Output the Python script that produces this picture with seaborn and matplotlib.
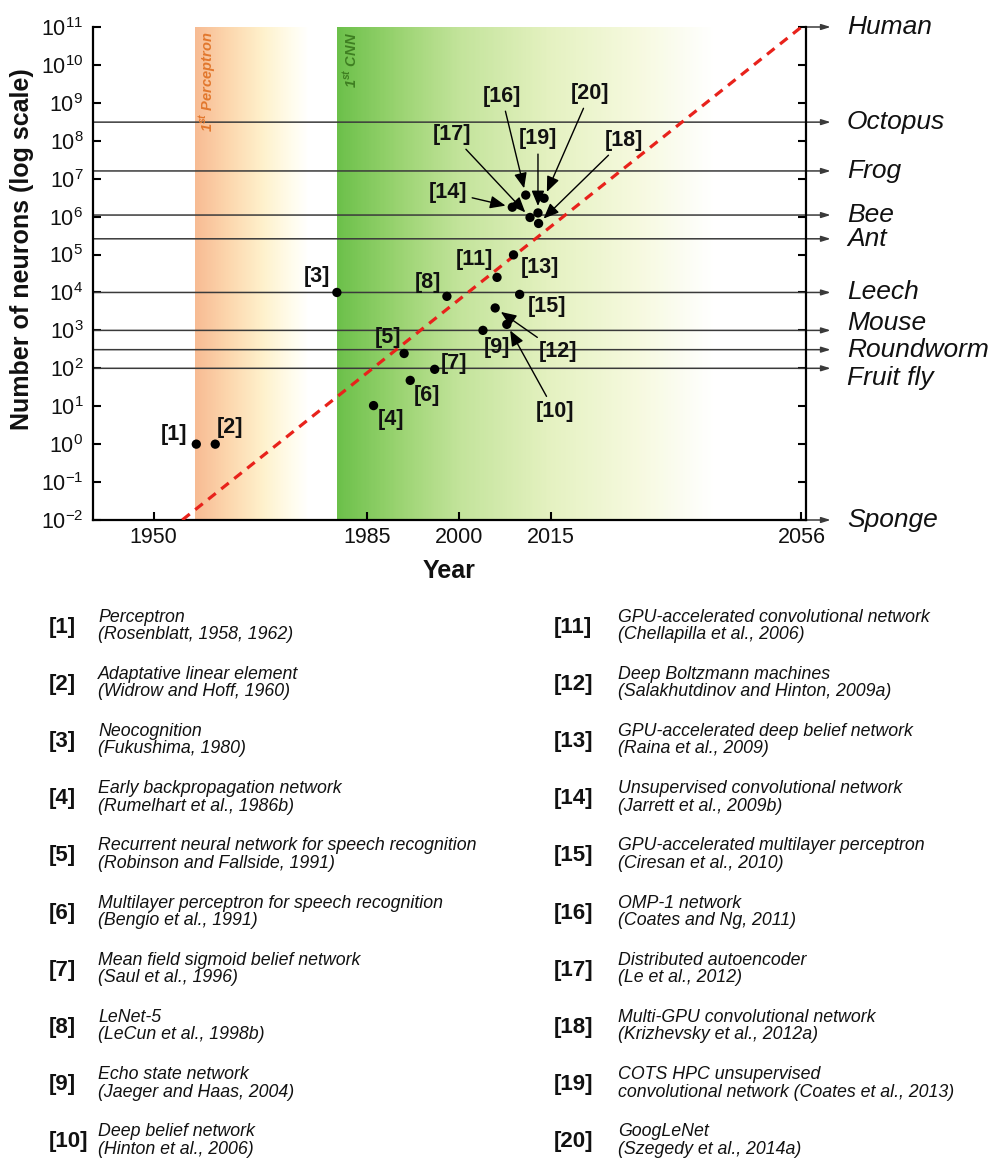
import numpy as np
import matplotlib
matplotlib.use('Agg')
import matplotlib.pyplot as plt
import seaborn as sns
from matplotlib.colors import LinearSegmentedColormap
from matplotlib.ticker import LogLocator, NullLocator, FixedLocator

# --- data ---
model_ids = ['[%d]' % i for i in range(1, 21)]
model_years = [1957.0, 1960.1, 1980.0, 1986.0, 1991.0, 1992.0, 1996.0, 1998.0, 2003.9, 2007.8,
               2006.2, 2005.9, 2008.9, 2008.7, 2009.9, 2010.9, 2011.6, 2013.0, 2012.9, 2013.9]
model_neurons = [1.0, 1.0, 1e4, 10.4, 246, 48, 94, 7.9e3, 1.0e3, 1.44e3,
                 2.5e4, 3.9e3, 9.8e4, 1.77e6, 8.9e3, 3.7e6, 9.5e5, 6.6e5, 1.25e6, 3.05e6]

animals = ['Human', 'Octopus', 'Frog', 'Bee', 'Ant', 'Leech', 'Mouse', 'Roundworm', 'Fruit fly', 'Sponge']
animal_neurons = [1e11, 3.1e8, 1.6e7, 1.1e6, 2.6e5, 1e4, 1e3, 3.1e2, 1e2, 1e-2]

trend_years = [1954.7, 2056.0]
trend_neurons = [1e-2, 1e11]

year_ticks = [1950, 1985, 2000, 2015, 2056]

model_names = ['Perceptron', 'Adaptative linear element', 'Neocognition',
               'Early backpropagation network', 'Recurrent neural network for speech recognition',
               'Multilayer perceptron for speech recognition', 'Mean field sigmoid belief network',
               'LeNet-5', 'Echo state network', 'Deep belief network',
               'GPU-accelerated convolutional network', 'Deep Boltzmann machines',
               'GPU-accelerated deep belief network', 'Unsupervised convolutional network',
               'GPU-accelerated multilayer perceptron', 'OMP-1 network', 'Distributed autoencoder',
               'Multi-GPU convolutional network', 'COTS HPC unsupervised', 'GoogLeNet']
model_refs = ['(Rosenblatt, 1958, 1962)', '(Widrow and Hoff, 1960)', '(Fukushima, 1980)',
              '(Rumelhart et al., 1986b)', '(Robinson and Fallside, 1991)', '(Bengio et al., 1991)',
              '(Saul et al., 1996)', '(LeCun et al., 1998b)', '(Jaeger and Haas, 2004)',
              '(Hinton et al., 2006)', '(Chellapilla et al., 2006)',
              '(Salakhutdinov and Hinton, 2009a)', '(Raina et al., 2009)', '(Jarrett et al., 2009b)',
              '(Ciresan et al., 2010)', '(Coates and Ng, 2011)', '(Le et al., 2012)',
              '(Krizhevsky et al., 2012a)', 'convolutional network (Coates et al., 2013)',
              '(Szegedy et al., 2014a)']

# label placement (pixel offsets from the dot) and which labels use an arrow
label_offsets = [(-22, 10), (15, 17), (-20, 16), (17, -14), (-16, 16), (17, -15), (19, 6),
                 (-19, 14), (14, -17), (48, -87), (-23, 18), (63, -44), (26, -13), (-64, 15),
                 (27, -12), (-24, 99), (-78, 83), (85, 83), (0, 74), (46, 105)]
arrow_ids = {'[10]', '[12]', '[14]', '[16]', '[17]', '[18]', '[19]', '[20]'}
animal_label_dy = {'Mouse': 7, 'Fruit fly': -10}

sns.set_theme(style='white')
plt.rcParams['font.family'] = ['Liberation Sans', 'DejaVu Sans']
plt.rcParams['axes.unicode_minus'] = False

W, H = 990, 1158
fig = plt.figure(figsize=(W / 100, H / 100), dpi=100)
ax = fig.add_axes([93 / W, 1 - 520 / H, 713 / W, 493 / H])
ax.set_yscale('log')
ax.set_xlim(1940.1, 2056.75)
ax.set_ylim(1e-2, 1e11)


def gradient_band(x0, x1, stops):
    cmap = LinearSegmentedColormap.from_list('band', stops)
    xs = np.linspace(x0, x1, 300)
    X, Y = np.meshgrid(xs, [1e-2, 1e11])
    C = np.linspace(0, 1, len(xs) - 1)[None, :]
    ax.pcolormesh(X, Y, C, cmap=cmap, shading='flat', zorder=0, rasterized=True)


gradient_band(1956.8, 1975.5, [(0, '#F7BB93'), (0.3, '#FCD7AE'), (0.6, '#FEF1CC'),
                               (0.85, '#FFFCEC'), (1, '#FFFFFF')])
gradient_band(1980.0, 2042.0, [(0, '#6CC04A'), (0.15, '#97D26E'), (0.32, '#C2E39A'),
                               (0.56, '#E4F1C0'), (0.8, '#F6F9DF'), (1, '#FFFFFF')])

tr = ax.get_xaxis_transform()
ax.text(1958.9, 0.99, r'1$^{\mathdefault{st}}$ Perceptron', transform=tr, rotation=90,
        ha='center', va='top', fontsize=10.5, fontstyle='italic', fontweight='bold', color='#E2782E')
ax.text(1982.4, 0.99, r'1$^{\mathdefault{st}}$ CNN', transform=tr, rotation=90,
        ha='center', va='top', fontsize=10.5, fontstyle='italic', fontweight='bold', color='#3F7F22')

# animal reference lines with arrows to the labels
for name, val in zip(animals, animal_neurons):
    start = 1.0 if name in ('Human', 'Sponge') else 0.0
    ax.annotate('', xy=(1.0346, val), xytext=(start, val),
                xycoords=('axes fraction', 'data'), textcoords=('axes fraction', 'data'),
                arrowprops=dict(arrowstyle='-|>,head_length=0.45,head_width=0.14', color='#3a3a3a',
                                lw=1.1, shrinkA=0, shrinkB=0), annotation_clip=False, zorder=2)
    ax.annotate(name, xy=(1.0575, val), xycoords=('axes fraction', 'data'),
                xytext=(0, animal_label_dy.get(name, 0)), textcoords='offset pixels',
                ha='left', va='center', fontsize=19, fontstyle='italic', color='#111111',
                annotation_clip=False)

ax.plot(trend_years, trend_neurons, color='#E8221B', lw=2.3, linestyle=(0, (3, 2.2)), zorder=3)

sns.scatterplot(x=model_years, y=model_neurons, ax=ax, color='black', s=45,
                edgecolor='none', zorder=5, legend=False)

for lab, yr, n, off in zip(model_ids, model_years, model_neurons, label_offsets):
    props = None
    if lab in arrow_ids:
        props = dict(arrowstyle='-|>,head_length=0.6,head_width=0.25', color='black', lw=1.0,
                     shrinkA=1, shrinkB=5)
    ax.annotate(lab, xy=(yr, n), xytext=off, textcoords='offset pixels', ha='center',
                va='center', fontsize=15.5, fontweight='bold', color='#111111',
                arrowprops=props, zorder=6)

# axes styling
for side in ('left', 'bottom', 'right'):
    ax.spines[side].set_visible(True)
    ax.spines[side].set_color('black')
    ax.spines[side].set_linewidth(1.6)
ax.spines['top'].set_visible(False)
ax.yaxis.set_major_locator(LogLocator(base=10, numticks=20))
ax.yaxis.set_minor_locator(NullLocator())
ax.xaxis.set_major_locator(FixedLocator(year_ticks))
ax.tick_params(axis='both', which='major', direction='in', length=6, width=1.5,
               labelsize=15.5, colors='black', labelcolor='#111111')
ax.tick_params(axis='y', right=True, left=True, pad=7)
ax.tick_params(axis='x', bottom=True, pad=5)
ax.grid(False)

ax.set_xlabel('Year', fontsize=18, fontweight='bold', color='#111111', labelpad=8)
ax.set_ylabel('Number of neurons (log scale)', fontsize=18, fontweight='bold', color='#111111')
ax.yaxis.set_label_coords(-0.083, 0.55)

# reference list below the chart
row_y0, row_step = 627, 57.2
for i, (lab, name, ref) in enumerate(zip(model_ids, model_names, model_refs)):
    col, row = divmod(i, 10)
    y = row_y0 + row * row_step
    x_lab = 49 if col == 0 else 554
    x_txt = 98 if col == 0 else 618
    fig.text(x_lab / W, 1 - y / H, lab, ha='left', va='center', fontsize=16,
             fontweight='bold', color='#111111')
    fig.text(x_txt / W, 1 - (y - 10) / H, name, ha='left', va='center', fontsize=12.8,
             fontstyle='italic', color='#111111')
    fig.text(x_txt / W, 1 - (y + 7.5) / H, ref, ha='left', va='center', fontsize=12.8,
             fontstyle='italic', color='#111111')

fig.savefig('out.png', dpi=100, facecolor='white')
